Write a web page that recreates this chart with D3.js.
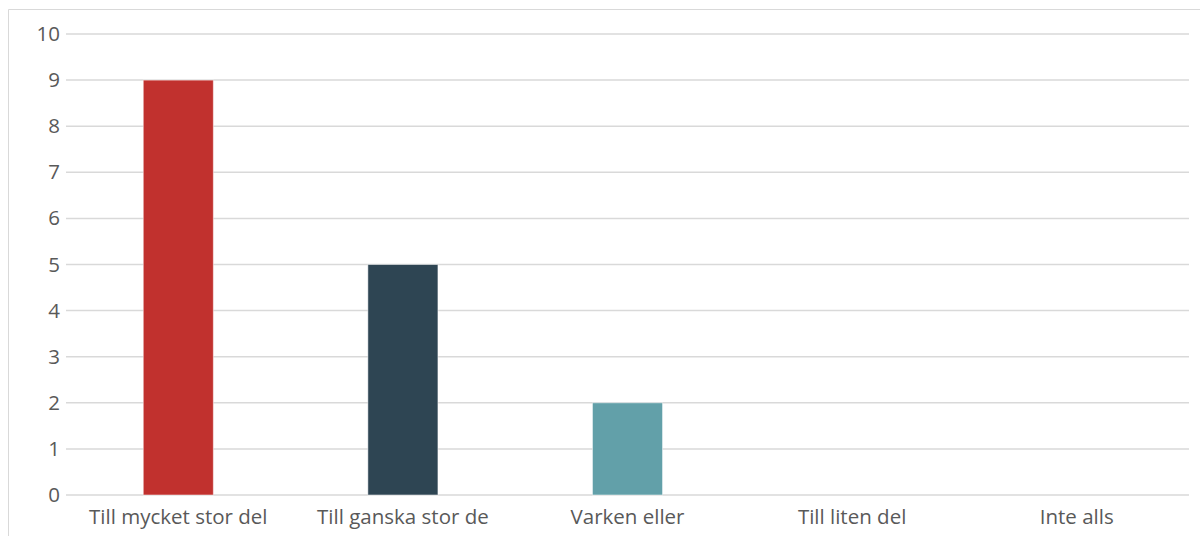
<!DOCTYPE html>
<html>
<head>
<meta charset="utf-8">
<script src="https://cdn.jsdelivr.net/npm/d3@7"></script>
<style>
  body { margin: 0; background: #fff; }
  svg { display: block; }
  .tick text { font-family: "Open Sans", sans-serif; fill: #595959; }
</style>
</head>
<body>
<div class="visualization"></div>
<script>
// data
const categories = ["Till mycket stor del", "Till ganska stor de", "Varken eller", "Till liten del", "Inte alls"];
const values = [9, 5, 2, 0, 0];
const barColors = ["#c1312e", "#2e4553", "#62a0a9", "#8fb8c0", "#b0b0b0"];
const yTicks = [0, 1, 2, 3, 4, 5, 6, 7, 8, 9, 10];

const width = 1200;
const height = 536;
const margin = {top: 34, right: 11, bottom: 41, left: 66};

const svg = d3.select(".visualization")
    .append("svg")
    .attr("width", width)
    .attr("height", height);

// outer frame (only top and left edges visible)
svg.append("path")
    .attr("d", `M8.5,${height} V9.5 H${width}`)
    .attr("fill", "none")
    .attr("stroke", "#d9d9d9")
    .attr("stroke-width", 1);

const x = d3.scaleBand()
    .domain(categories)
    .range([margin.left, width - margin.right])
    .paddingInner(0.688)
    .paddingOuter(0.344);

const y = d3.scaleLinear()
    .domain([0, 10])
    .range([height - margin.bottom, margin.top]);

// gridlines
svg.append("g")
    .selectAll("line")
    .data(yTicks)
    .enter()
    .append("line")
    .attr("x1", margin.left)
    .attr("x2", width - margin.right)
    .attr("y1", d => y(d))
    .attr("y2", d => y(d))
    .attr("stroke", "#d9d9d9")
    .attr("stroke-width", 1.5);

// y axis labels
const yAxis = svg.append("g")
    .attr("transform", `translate(${margin.left},0)`)
    .call(d3.axisLeft(y).tickValues(yTicks).tickSize(0).tickPadding(6));
yAxis.select(".domain").remove();
yAxis.selectAll("text").style("font-size", "20.5px");

// bars
svg.append("g")
    .selectAll("rect")
    .data(values)
    .enter()
    .append("rect")
    .attr("x", (d, i) => x(categories[i]))
    .attr("y", d => y(d))
    .attr("width", x.bandwidth())
    .attr("height", d => y(0) - y(d))
    .attr("fill", (d, i) => barColors[i])
    .attr("stroke", "#ffffff")
    .attr("stroke-opacity", 0.5)
    .attr("stroke-width", 1)
    .style("display", d => d > 0 ? null : "none");

// x axis labels
const xAxis = svg.append("g")
    .attr("transform", `translate(0,${height - margin.bottom})`)
    .call(d3.axisBottom(x).tickSize(0).tickPadding(14));
xAxis.select(".domain").remove();
xAxis.selectAll("text").style("font-size", "20.5px");
</script>
</body>
</html>
